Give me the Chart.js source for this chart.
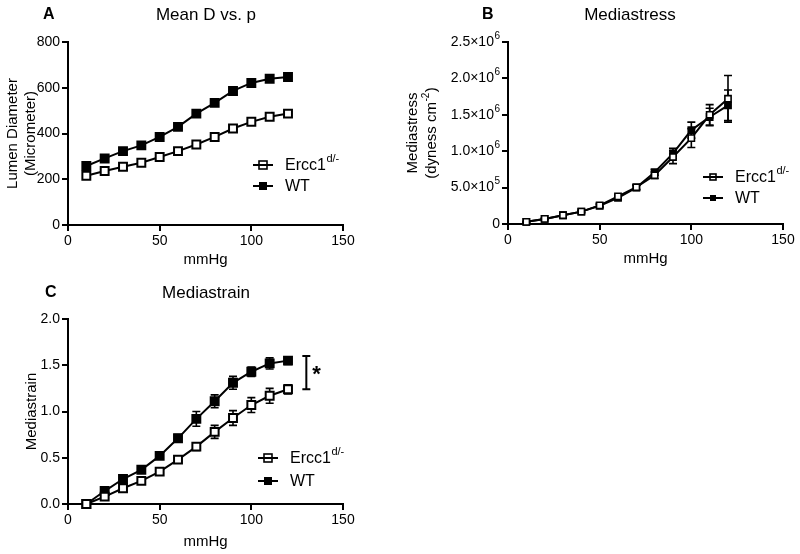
<!DOCTYPE html>
<html>
<head>
<meta charset="utf-8">
<script src="https://cdn.jsdelivr.net/npm/chart.js@4.4.1/dist/chart.umd.min.js"></script>
<style>
  body { margin: 0; background: #fff; width: 800px; height: 554px; position: relative; overflow: hidden; }
  canvas { position: absolute; }
</style>
</head>
<body>
<canvas id="panelA" width="400" height="270" style="left:0;top:0"></canvas>
<canvas id="panelB" width="400" height="270" style="left:400px;top:0"></canvas>
<canvas id="panelC" width="400" height="284" style="left:0;top:270px"></canvas>
<script>
// pressure steps (mmHg)
const pressure = [10, 20, 30, 40, 50, 60, 70, 80, 90, 100, 110, 120];

// A: lumen diameter (micrometer)
const diamErcc = [215, 236, 255, 272, 297, 323, 352, 385, 422, 451, 473, 487];
const diamErccSem = [6, 6, 6, 7, 7, 8, 8, 9, 9, 10, 10, 10];
const diamWT = [258, 291, 323, 348, 385, 429, 487, 534, 586, 621, 639, 647];
const diamWTSem = [8, 8, 8, 9, 9, 10, 11, 11, 12, 12, 12, 12];

// B: mediastress (dyness cm-2)
const stressErcc = [30000, 70000, 120000, 170000, 255000, 380000, 505000, 670000, 920000, 1180000, 1500000, 1720000];
const stressErccSem = [5000, 8000, 10000, 15000, 20000, 25000, 30000, 45000, 90000, 130000, 140000, 320000];
const stressWT = [30000, 70000, 120000, 170000, 250000, 360000, 500000, 710000, 970000, 1290000, 1470000, 1630000];
const stressWTSem = [5000, 8000, 10000, 15000, 20000, 25000, 30000, 40000, 70000, 110000, 120000, 210000];

// C: mediastrain
const strainErcc = [0, 0.08, 0.17, 0.25, 0.35, 0.48, 0.62, 0.78, 0.93, 1.07, 1.17, 1.24];
const strainErccSem = [0, 0.01, 0.02, 0.02, 0.03, 0.03, 0.04, 0.07, 0.08, 0.08, 0.08, 0.05];
const strainWT = [0, 0.14, 0.27, 0.37, 0.52, 0.71, 0.92, 1.11, 1.31, 1.43, 1.52, 1.55];
const strainWTSem = [0, 0.02, 0.03, 0.03, 0.03, 0.04, 0.08, 0.07, 0.07, 0.05, 0.06, 0.04];

// significance bracket in C
const sigX = 130;
const sigRange = [1.24, 1.60];

const xTicks = [0, 50, 100, 150];
const FONT = "'Liberation Sans', Arial, sans-serif";

function pts(ys) {
    return pressure.map((p, i) => ({ x: p, y: ys[i] }));
}

// text with a raised superscript part, drawn left aligned from x
function drawSup(ctx, base, sup, x, y, size) {
    ctx.font = size + "px " + FONT;
    ctx.textAlign = "left";
    ctx.textBaseline = "middle";
    ctx.fillText(base, x, y);
    const w = ctx.measureText(base).width;
    ctx.font = Math.round(size * 0.68) + "px " + FONT;
    ctx.fillText(sup, x + w + 0.5, y - size * 0.42);
}

function supWidth(ctx, base, sup, size) {
    ctx.font = size + "px " + FONT;
    const w = ctx.measureText(base).width;
    ctx.font = Math.round(size * 0.68) + "px " + FONT;
    return w + 0.5 + ctx.measureText(sup).width;
}

// SEM error bars, drawn before the lines and markers
const errorBars = {
    id: "errorBars",
    beforeDatasetsDraw(chart) {
        const { ctx, scales: { x, y } } = chart;
        const cap = chart.options.plugins.panel.cap;
        chart.data.datasets.forEach(ds => {
            if (!ds.errors) return;
            ctx.save();
            ctx.strokeStyle = "#000";
            ctx.lineWidth = 1.6;
            ds.data.forEach((pt, i) => {
                const e = ds.errors[i];
                if (!e) return;
                const px = x.getPixelForValue(pt.x);
                const top = y.getPixelForValue(pt.y + e);
                const bot = y.getPixelForValue(pt.y - e);
                ctx.beginPath();
                ctx.moveTo(px, top); ctx.lineTo(px, bot);
                ctx.moveTo(px - cap, top); ctx.lineTo(px + cap, top);
                ctx.moveTo(px - cap, bot); ctx.lineTo(px + cap, bot);
                ctx.stroke();
            });
            ctx.restore();
        });
    }
};

// panel letter, title and the GraphPad style legend
const panelDecor = {
    id: "panel",
    afterDraw(chart, args, o) {
        const ctx = chart.ctx;
        ctx.save();
        ctx.fillStyle = "#000";
        ctx.textBaseline = "middle";
        ctx.font = "bold 16px " + FONT;
        ctx.textAlign = "left";
        ctx.fillText(o.letter, o.letterX, o.letterY);
        ctx.font = "17px " + FONT;
        ctx.textAlign = "center";
        ctx.fillText(o.title, o.titleX, o.titleY);

        // legend
        chart.data.datasets.forEach((ds, i) => {
            const ly = o.legendY + i * o.legendGap;
            ctx.strokeStyle = "#000";
            ctx.lineWidth = 2;
            ctx.beginPath();
            ctx.moveTo(o.legendX, ly);
            ctx.lineTo(o.legendX + 20, ly);
            ctx.stroke();
            const s = o.legendMarker;
            if (ds.backgroundColor === "#000") {
                ctx.fillRect(o.legendX + 10 - s / 2, ly - s / 2, s, s);
            } else {
                ctx.lineWidth = 1.6;
                ctx.strokeRect(o.legendX + 10 - s / 2, ly - s / 2, s, s);
            }
            if (ds.supLabel) {
                drawSup(ctx, ds.label, ds.supLabel, o.legendX + 32, ly + 1, 16);
            } else {
                ctx.font = "16px " + FONT;
                ctx.textAlign = "left";
                ctx.fillText(ds.label, o.legendX + 32, ly + 1);
            }
        });
        if (o.extra) o.extra(chart, ctx);
        ctx.restore();
    }
};

function axisX(titlePadBottom, height) {
    return {
        type: "linear",
        min: 0,
        max: 150,
        afterBuildTicks: s => { s.ticks = xTicks.map(v => ({ value: v })); },
        afterFit: s => { s.height = height; },
        border: { color: "#000", width: 2 },
        grid: { drawOnChartArea: false, color: "#000", lineWidth: 2, tickLength: 6 },
        ticks: { color: "#000", padding: 2, font: { family: FONT, size: 14 } },
        title: { display: true, text: "mmHg", color: "#000", font: { family: FONT, size: 15 }, padding: { top: 0, bottom: titlePadBottom } }
    };
}

function axisY(min, max, step, width, title, titlePadTop, fmt, labelColor) {
    return {
        min: min,
        max: max,
        afterFit: s => { s.width = width; },
        border: { color: "#000", width: 2 },
        grid: { drawOnChartArea: false, color: "#000", lineWidth: 2, tickLength: 6 },
        ticks: { stepSize: step, color: labelColor, padding: 2, font: { family: FONT, size: 14 }, callback: fmt },
        title: { display: !!title, text: title || "", color: "#000", font: { family: FONT, size: 15 }, padding: { top: titlePadTop, bottom: 0 } }
    };
}

function series(label, supLabel, data, errors, filled, radius, bw) {
    return {
        label: label,
        supLabel: supLabel,
        data: data,
        errors: errors,
        borderColor: "#000",
        borderWidth: 2,
        backgroundColor: filled ? "#000" : "#fff",
        pointStyle: "rect",
        pointRadius: radius,
        pointBorderWidth: bw,
        pointBorderColor: "#000",
        pointBackgroundColor: filled ? "#000" : "#fff",
        tension: 0,
        clip: false
    };
}

function makePanel(id, datasets, scales, padding, panelOpts) {
    return new Chart(document.getElementById(id), {
        type: "line",
        data: { datasets: datasets },
        options: {
            responsive: false,
            animation: false,
            events: [],
            layout: { padding: padding },
            scales: scales,
            plugins: {
                legend: { display: false },
                tooltip: { enabled: false },
                panel: panelOpts
            }
        },
        plugins: [errorBars, panelDecor]
    });
}

// Panel A
makePanel("panelA",
    [
        series("Ercc1", "d/-", pts(diamErcc), diamErccSem, false, 5.6, 2),
        series("WT", null, pts(diamWT), diamWTSem, true, 5.6, 2)
    ],
    {
        x: axisX(1, 45),
        y: axisY(0, 800, 200, 68, ["Lumen Diameter", "(Micrometer)"], 4, v => String(v), "#000")
    },
    { left: 0, top: 42, right: 57, bottom: 0 },
    { letter: "A", letterX: 43, letterY: 15, title: "Mean D vs. p", titleX: 206, titleY: 15,
      legendX: 253, legendY: 165, legendGap: 21, legendMarker: 8, cap: 4 }
);

// Panel B (tick labels with powers of ten are drawn by the plugin)
makePanel("panelB",
    [
        series("Ercc1", "d/-", pts(stressErcc), stressErccSem, false, 4.4, 1.6),
        series("WT", null, pts(stressWT), stressWTSem, true, 4.4, 1.6)
    ],
    {
        x: axisX(2, 46),
        y: axisY(0, 2500000, 500000, 108, null, 0, v => String(v), "rgba(0,0,0,0)")
    },
    { left: 0, top: 42, right: 17, bottom: 0 },
    { letter: "B", letterX: 82, letterY: 15, title: "Mediastress", titleX: 230, titleY: 15,
      legendX: 303, legendY: 177, legendGap: 21, legendMarker: 6, cap: 4,
      extra: (chart, ctx) => {
          const ys = chart.scales.y;
          const right = chart.chartArea.left - 8;
          ctx.fillStyle = "#000";
          ys.ticks.forEach(t => {
              const py = ys.getPixelForValue(t.value);
              if (t.value === 0) {
                  ctx.font = "14px " + FONT;
                  ctx.textAlign = "right";
                  ctx.textBaseline = "middle";
                  ctx.fillText("0", right, py);
                  return;
              }
              const exp = Math.floor(Math.log10(t.value) + 1e-9);
              const base = (t.value / Math.pow(10, exp)).toFixed(1) + "\u00d710";
              const w = supWidth(ctx, base, String(exp), 14);
              drawSup(ctx, base, String(exp), right - w, py, 14);
          });
          // rotated y title
          const cy = (chart.chartArea.top + chart.chartArea.bottom) / 2;
          ctx.textBaseline = "middle";
          ctx.save();
          ctx.translate(13, cy);
          ctx.rotate(-Math.PI / 2);
          ctx.font = "15px " + FONT;
          ctx.textAlign = "center";
          ctx.fillText("Mediastress", 0, 0);
          ctx.restore();
          ctx.save();
          ctx.translate(32, cy);
          ctx.rotate(-Math.PI / 2);
          ctx.font = "15px " + FONT;
          const w1 = ctx.measureText("(dyness cm").width;
          ctx.font = "10px " + FONT;
          const w2 = ctx.measureText("-2").width;
          ctx.font = "15px " + FONT;
          const w3 = ctx.measureText(")").width;
          const sx = -(w1 + w2 + w3 + 1) / 2;
          ctx.textAlign = "left";
          ctx.fillText("(dyness cm", sx, 0);
          ctx.font = "10px " + FONT;
          ctx.fillText("-2", sx + w1 + 0.5, -6);
          ctx.font = "15px " + FONT;
          ctx.fillText(")", sx + w1 + w2 + 1, 0);
          ctx.restore();
      } }
);

// Panel C
makePanel("panelC",
    [
        series("Ercc1", "d/-", pts(strainErcc), strainErccSem, false, 5.6, 2),
        series("WT", null, pts(strainWT), strainWTSem, true, 5.6, 2)
    ],
    {
        x: axisX(3, 50),
        y: axisY(0, 2, 0.5, 68, "Mediastrain", 23, v => v.toFixed(1), "#000")
    },
    { left: 0, top: 49, right: 57, bottom: 0 },
    { letter: "C", letterX: 45, letterY: 23, title: "Mediastrain", titleX: 206, titleY: 23,
      legendX: 258, legendY: 188, legendGap: 23, legendMarker: 8, cap: 4,
      extra: (chart, ctx) => {
          const { x, y } = chart.scales;
          const px = x.getPixelForValue(sigX);
          const top = y.getPixelForValue(sigRange[1]);
          const bot = y.getPixelForValue(sigRange[0]);
          ctx.strokeStyle = "#000";
          ctx.lineWidth = 2;
          ctx.beginPath();
          ctx.moveTo(px, top); ctx.lineTo(px, bot);
          ctx.moveTo(px - 4, top); ctx.lineTo(px + 4, top);
          ctx.moveTo(px - 4, bot); ctx.lineTo(px + 4, bot);
          ctx.stroke();
          ctx.font = "bold 22px " + FONT;
          ctx.textAlign = "left";
          ctx.fillText("*", px + 6, (top + bot) / 2 + 2);
      } }
);
</script>
</body>
</html>
